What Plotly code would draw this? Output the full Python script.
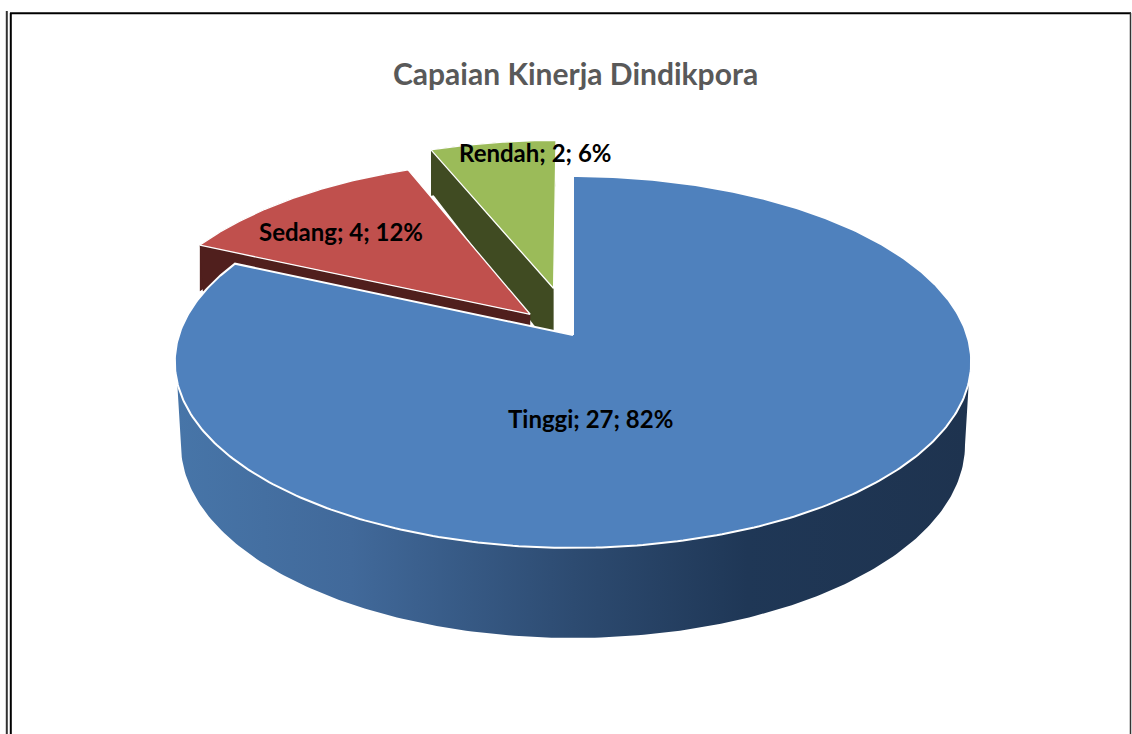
import numpy as np
import plotly.graph_objects as go

# ---- data
categories = ["Tinggi", "Sedang", "Rendah"]
values = [27, 4, 2]
percent_labels = [82, 12, 6]
title_text = "Capaian Kinerja Dindikpora"
explode = [0.0, 0.16, 0.27]

# ---- look
top_colors = ["#4F81BD", "#C0504D", "#9BBB59"]
wall_colors = ["#1F3655", "#501F1D", "#404B22"]
label_xy = [(590, 418.5), (341, 231.5), (535, 152.5)]

# ---- projection of the tilted pie onto the page (axis units = page pixels)
CX, CY, A, B, K = 573, 335, 394, 182, 0.145
SLICE_DEPTH = 46
APEX_DEPTH = 62
BASE_CY, BASE_RX, BASE_RY = 445, 392, 193


def project(u, v):
    w = 1 + K * v
    return CX + A * u / w, CY - B * v / w


total = sum(values)
edges = np.concatenate([[0], np.cumsum(values)]) / total * 2 * np.pi


def wedge(i, n=120):
    """Outline of slice i, returned as apex then rim points."""
    t = np.linspace(edges[i], edges[i + 1], n)
    mid = (edges[i] + edges[i + 1]) / 2
    ou, ov = explode[i] * np.sin(mid), explode[i] * np.cos(mid)
    x, y = project(ou + np.sin(t), ov + np.cos(t))
    ax, ay = project(ou, ov)
    return ax, ay, x, y


def poly(x, y, color, line=None, width=1.5, **kw):
    return go.Scatter(
        x=list(x), y=list(y), mode="lines", fill="toself", fillcolor=color,
        line=dict(color=line or color, width=width if line else 0),
        hoverinfo="skip", showlegend=False, **kw)


fig = go.Figure()

# exploded slices: green first, then red (red overlaps the green wall)
for i in (2, 1):
    ax, ay, x, y = wedge(i)
    # wall under the rim
    fig.add_trace(poly(np.r_[x, x[::-1]], np.r_[y, y[::-1] + SLICE_DEPTH], wall_colors[i]))
    # wall under the first radial cut (the one facing the viewer)
    fig.add_trace(poly([ax, x[0], x[0] + 3, ax], [ay, y[0], y[0] + SLICE_DEPTH, ay + APEX_DEPTH], wall_colors[i]))
    fig.add_trace(poly(np.r_[ax, x, ax], np.r_[ay, y, ay], top_colors[i], line="white", width=1.3))

# big slice: side wall with a left-to-right gradient
t = np.linspace(np.radians(104.5), np.radians(255.5), 200)
rx, ry = project(np.sin(t), np.cos(t))
s = np.linspace(0, np.pi, 200)
bx = CX - BASE_RX * np.cos(s)
by = BASE_CY + BASE_RY * np.sin(s)
fig.add_trace(go.Scatter(
    x=list(np.r_[rx, bx]), y=list(np.r_[ry, by]), mode="lines", fill="toself",
    line=dict(width=0), hoverinfo="skip", showlegend=False,
    fillgradient=dict(type="horizontal", colorscale=[
        [0.0, "#4775A8"], [0.22, "#41699A"], [0.5, "#2D4B71"],
        [0.72, "#1F3756"], [1.0, "#1E334F"]]),
))

# big slice: top face
ax, ay, x, y = wedge(0, 400)
fig.add_trace(poly(np.r_[ax, x, ax], np.r_[ay, y, ay], top_colors[0], line="white", width=2))

# labels built from the data
for name, val, pct, (lx, ly) in zip(categories, values, percent_labels, label_xy):
    fig.add_annotation(x=lx, y=ly, text=f"{name}; {val}; {pct}%", showarrow=False,
                       font=dict(family="Lato", size=24, color="black", weight="bold"))
fig.add_annotation(x=575, y=72.5, text=title_text, showarrow=False,
                   font=dict(family="Lato", size=30, color="#595959", weight="bold"))

# double page frame
frame = [((6.8, 11), (6.8, 734), "#333333", 2), ((10.8, 13), (10.8, 734), "black", 2),
         ((10, 13.2), (1131, 13.2), "black", 2), ((1130.5, 13), (1130.5, 734), "#333333", 1.5)]
for (x0, y0), (x1, y1), c, w in frame:
    fig.add_shape(type="line", x0=x0, y0=y0, x1=x1, y1=y1, line=dict(color=c, width=w))

fig.update_layout(
    width=1132, height=734, margin=dict(l=0, r=0, t=0, b=0),
    paper_bgcolor="white", plot_bgcolor="white", showlegend=False,
    xaxis=dict(range=[0, 1132], visible=False, fixedrange=True),
    yaxis=dict(range=[734, 0], visible=False, fixedrange=True),
)
fig.write_html("out.html", config={"displayModeBar": False},
               post_script="document.body.style.margin='0';document.body.style.overflow='hidden';")
